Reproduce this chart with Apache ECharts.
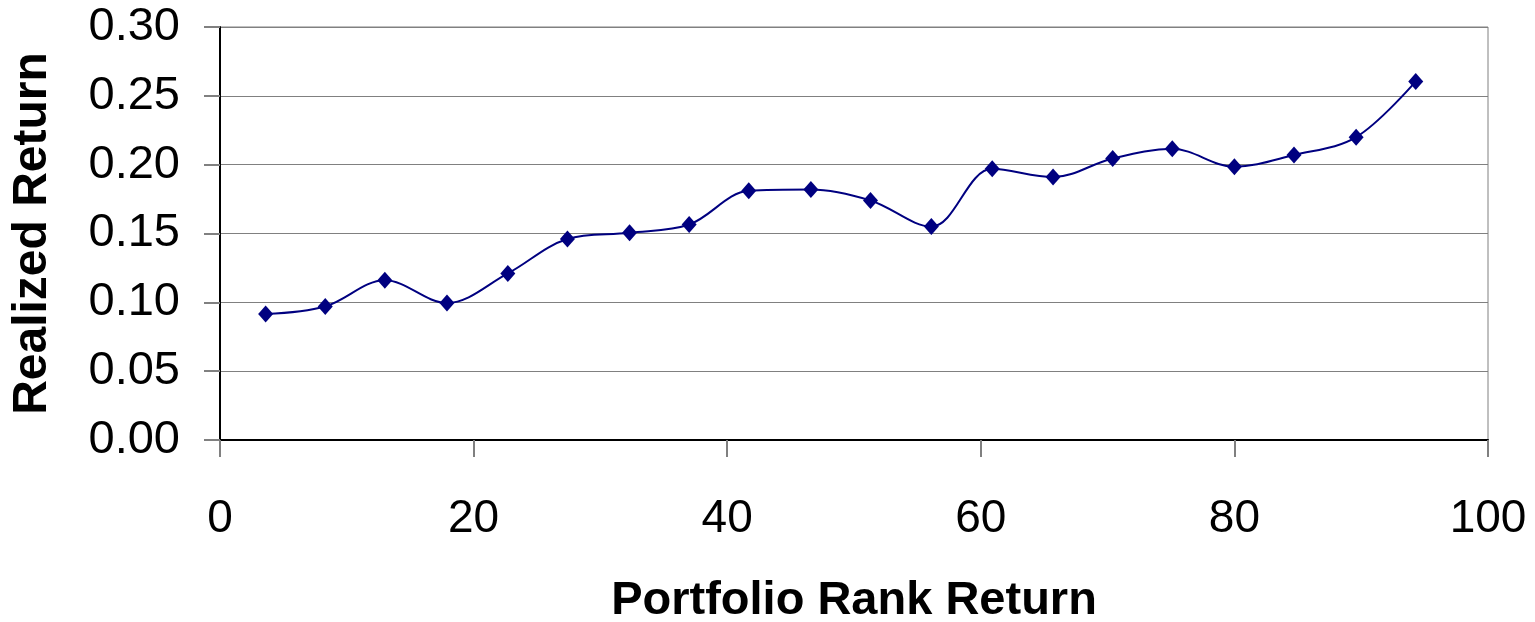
<!DOCTYPE html>
<html>
<head>
<meta charset="utf-8">
<script src="https://cdn.jsdelivr.net/npm/echarts@6/dist/echarts.min.js"></script>
<style>
  html, body { margin: 0; padding: 0; background: #fff; }
  #chart { width: 1535px; height: 622px; }
</style>
</head>
<body>
<div id="chart"></div>
<script>
// portfolio rank (x) and realized return (y)
var rankReturn = [3.6, 8.3, 13.0, 17.9, 22.7, 27.4, 32.3, 37.0, 41.7, 46.6,
                  51.3, 56.1, 60.9, 65.7, 70.4, 75.1, 80.0, 84.7, 89.6, 94.3];
var realizedReturn = [0.0915, 0.097, 0.116, 0.0995, 0.121, 0.146, 0.1505, 0.1565, 0.181, 0.182,
                      0.174, 0.155, 0.197, 0.191, 0.2045, 0.2115, 0.1985, 0.207, 0.220, 0.2605];

var points = rankReturn.map(function (x, i) { return [x, realizedReturn[i]]; });

var chart = echarts.init(document.getElementById('chart'));
var font = 'Liberation Sans, Arial, sans-serif';

chart.setOption({
  animation: false,
  grid: {
    left: 220,
    right: 47,
    top: 27,
    bottom: 182,
    outerBoundsMode: 'none',
    containLabel: false,
    show: true,
    borderColor: '#808080',
    borderWidth: 1
  },
  xAxis: {
    type: 'value',
    min: 0,
    max: 100,
    interval: 20,
    name: 'Portfolio Rank Return',
    nameLocation: 'middle',
    nameGap: 138,
    nameTextStyle: { fontFamily: font, fontSize: 47, fontWeight: 'bold', color: '#000' },
    axisLine: { show: true, onZero: false, lineStyle: { color: '#000', width: 2 } },
    axisTick: { show: true, inside: false, length: 17, lineStyle: { color: '#808080', width: 2 } },
    axisLabel: { margin: 56, fontFamily: font, fontSize: 46, color: '#000' },
    splitLine: { show: false }
  },
  yAxis: {
    type: 'value',
    min: 0,
    max: 0.3,
    interval: 0.05,
    name: 'Realized Return',
    nameLocation: 'middle',
    nameGap: 163,
    nameTextStyle: { fontFamily: font, fontSize: 48, fontWeight: 'bold', color: '#000' },
    axisLine: { show: true, lineStyle: { color: '#000', width: 2 } },
    axisTick: { show: true, inside: false, length: 16, lineStyle: { color: '#808080', width: 2 } },
    axisLabel: {
      margin: 40,
      fontFamily: font,
      fontSize: 47,
      color: '#000',
      formatter: function (v) { return v.toFixed(2); }
    },
    splitLine: { show: true, lineStyle: { color: '#808080', width: 1 } }
  },
  series: [
    {
      type: 'line',
      data: points,
      smooth: 0.35,
      symbol: 'diamond',
      symbolSize: [15, 17],
      itemStyle: { color: '#000080' },
      lineStyle: { color: '#000080', width: 2 }
    }
  ]
});
</script>
</body>
</html>
